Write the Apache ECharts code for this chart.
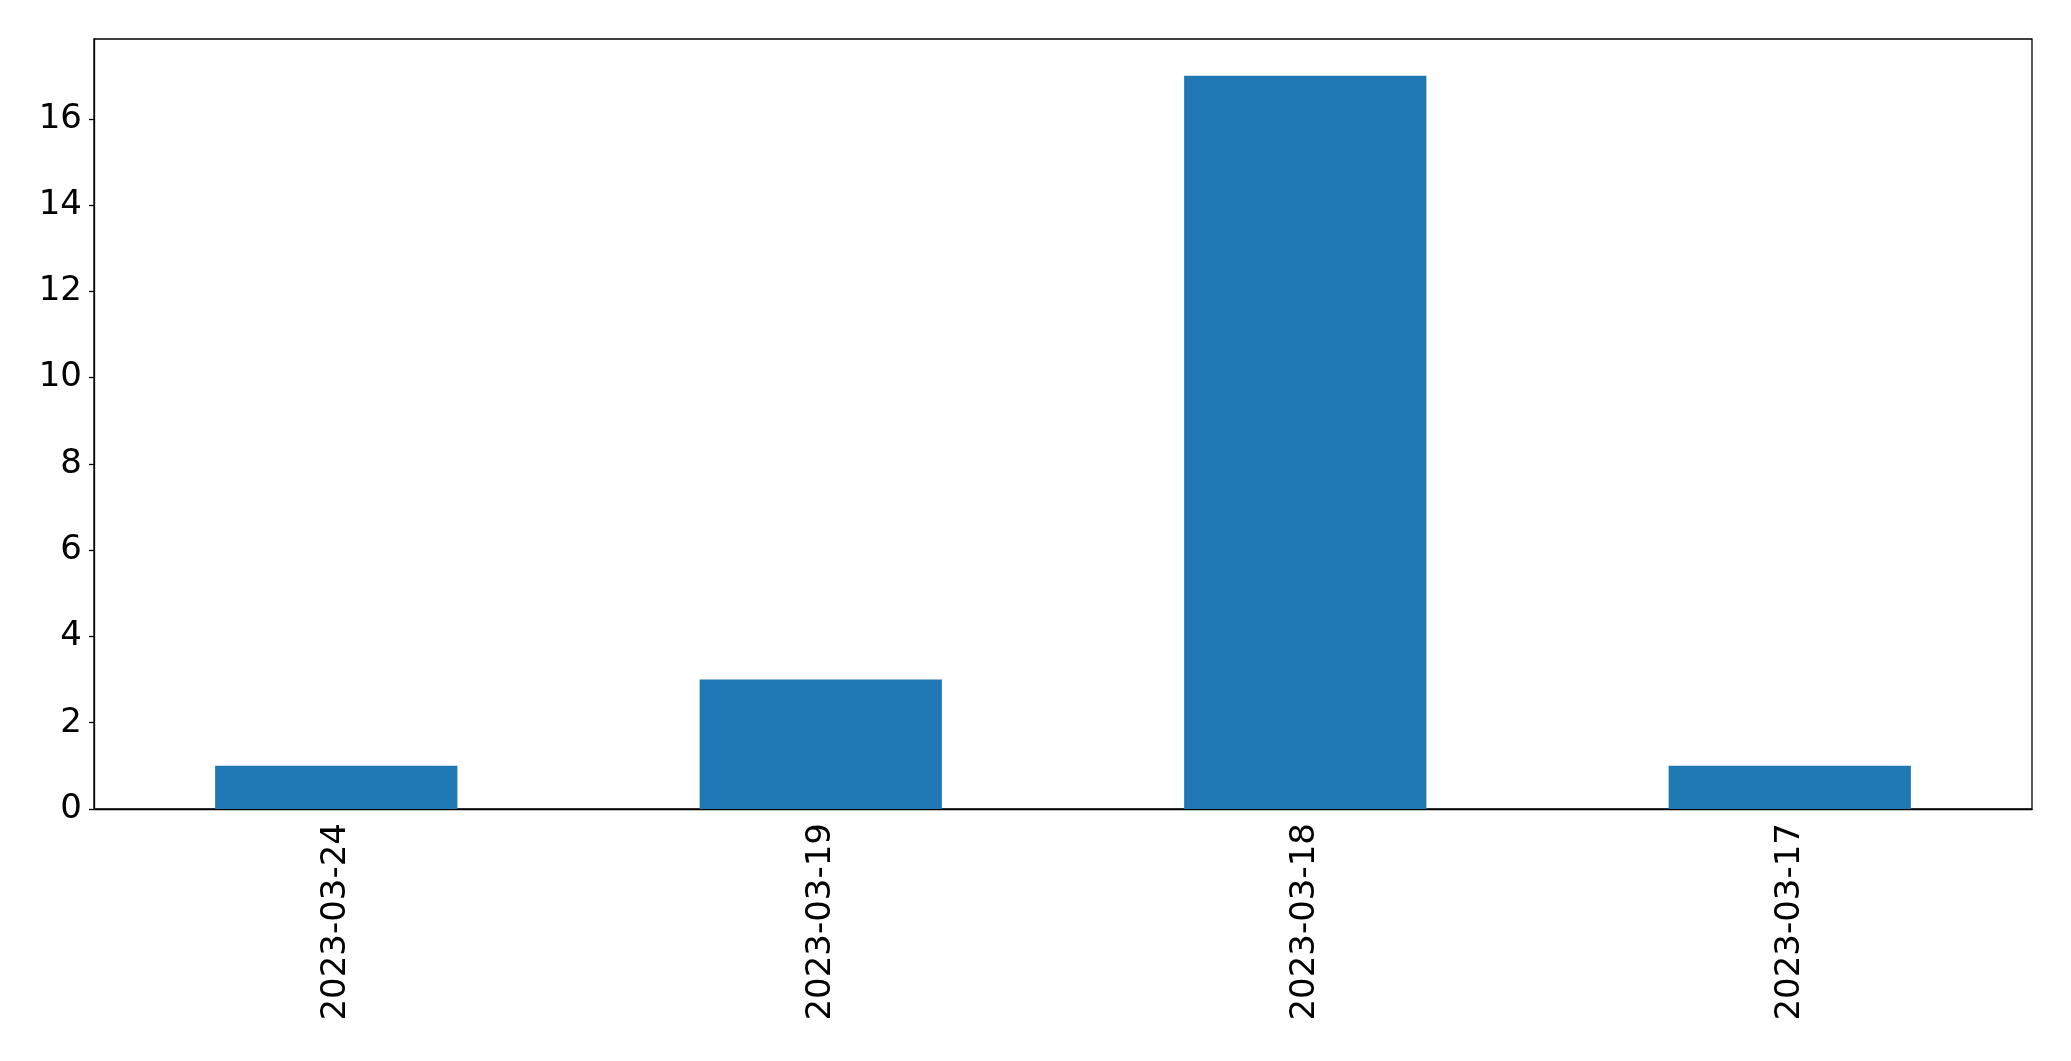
<!DOCTYPE html>
<html>
<head>
<meta charset="utf-8">
<script src="https://cdn.jsdelivr.net/npm/echarts@6/dist/echarts.min.js"></script>
<style>
html,body{margin:0;padding:0;background:#fff;}
#chart{width:2071px;height:1061px;}
</style>
</head>
<body>
<div id="chart"></div>
<script>
const categories = ['2023-03-24', '2023-03-19', '2023-03-18', '2023-03-17'];
const values = [1, 3, 17, 1];

const chart = echarts.init(document.getElementById('chart'));
const font = 'DejaVu Sans';
chart.setOption({
  animation: false,
  backgroundColor: '#fff',
  grid: {
    left: 94, right: 39, top: 39, bottom: 252,
    show: true, borderColor: '#000', borderWidth: 1.3, backgroundColor: 'transparent'
  },
  xAxis: {
    type: 'category',
    data: categories,
    axisLine: {lineStyle: {color: '#000', width: 1.3}},
    axisTick: {alignWithLabel: true, length: 5, lineStyle: {color: '#000', width: 1.3}},
    axisLabel: {rotate: 90, margin: 14, fontSize: 34, color: '#000', fontFamily: font}
  },
  yAxis: {
    type: 'value',
    min: 0,
    max: 17.85,
    interval: 2,
    splitLine: {show: false},
    axisLine: {show: true, lineStyle: {color: '#000', width: 1.3}},
    axisTick: {show: true, length: 5, lineStyle: {color: '#000', width: 1.3}},
    axisLabel: {showMaxLabel: false, margin: 12, fontSize: 34, color: '#000', fontFamily: font}
  },
  series: [{
    type: 'bar',
    data: values,
    barWidth: '50%',
    itemStyle: {color: '#1f77b4'}
  }]
});
</script>
</body>
</html>
